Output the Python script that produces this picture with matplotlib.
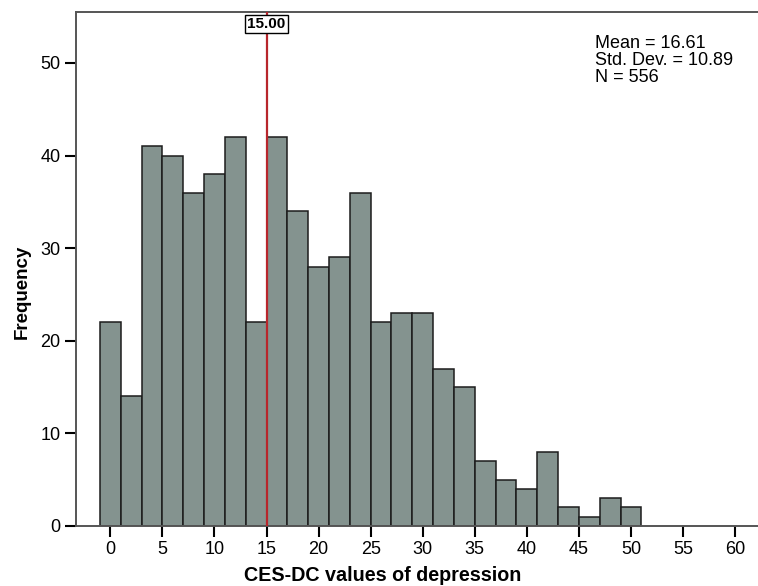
"""Histogram of CES-DC depression scores with a cut-off marker at 15."""

import matplotlib
matplotlib.use("Agg")
import matplotlib.pyplot as plt

plt.rcParams["font.family"] = ["Liberation Sans", "DejaVu Sans"]

# Bin centres (width 2) and counts.
bin_centers = [0, 2, 4, 6, 8, 10, 12, 14, 16, 18, 20, 22, 24, 26, 28,
               30, 32, 34, 36, 38, 40, 42, 44, 46, 48, 50]
counts = [22, 14, 41, 40, 36, 38, 42, 22, 42, 34, 28, 29, 36, 22, 23,
          23, 17, 15, 7, 5, 4, 8, 2, 1, 3, 2]
bin_width = 2
cutoff = 15.0
x_ticks = [0, 5, 10, 15, 20, 25, 30, 35, 40, 45, 50, 55, 60]
y_ticks = [0, 10, 20, 30, 40, 50]
stats_text = "Mean = 16.61\nStd. Dev. = 10.89\nN = 556"

BAR_COLOR = "#84938F"
EDGE_COLOR = "#1c1c1c"
LINE_COLOR = "#B8262C"
SPINE_COLOR = "#555555"

fig = plt.figure(figsize=(7.58, 5.86), dpi=100)
ax = fig.add_axes([76 / 758, 60 / 586, 682 / 758, 514 / 586])

ax.bar(bin_centers, counts, width=bin_width, color=BAR_COLOR,
       edgecolor=EDGE_COLOR, linewidth=1.1, zorder=2)

ax.set_xlim(-3.3, 62.2)
ax.set_ylim(0, 55.5)

# cut-off line with its boxed label on the top spine
ax.axvline(cutoff, color=LINE_COLOR, linewidth=1.6, zorder=3)
ax.text(cutoff, 54.2, f"{cutoff:.2f}", ha="center", va="center",
        fontsize=11, fontweight="bold", zorder=5, clip_on=False,
        bbox=dict(boxstyle="square,pad=0.15", fc="white", ec="black", lw=1.0))

ax.text(46.5, 53.0, stats_text, ha="left", va="top", fontsize=13,
        linespacing=1.0)

ax.set_xticks(x_ticks)
ax.set_yticks(y_ticks)
ax.tick_params(axis="both", direction="out", length=8, width=1.5,
               color="black", labelsize=13, pad=3)

for side in ("left", "bottom", "top"):
    ax.spines[side].set_color(SPINE_COLOR)
    ax.spines[side].set_linewidth(1.4)
ax.spines["right"].set_visible(False)

ax.set_xlabel("CES-DC values of depression", fontsize=14.2, fontweight="bold")
ax.xaxis.set_label_coords(0.45, -0.077)
ax.set_ylabel("Frequency", fontsize=13.5, fontweight="bold")
ax.yaxis.label.set_va("center")
ax.yaxis.set_label_coords(-0.079, 0.455)

fig.savefig("out.png", dpi=100)
plt.close(fig)
